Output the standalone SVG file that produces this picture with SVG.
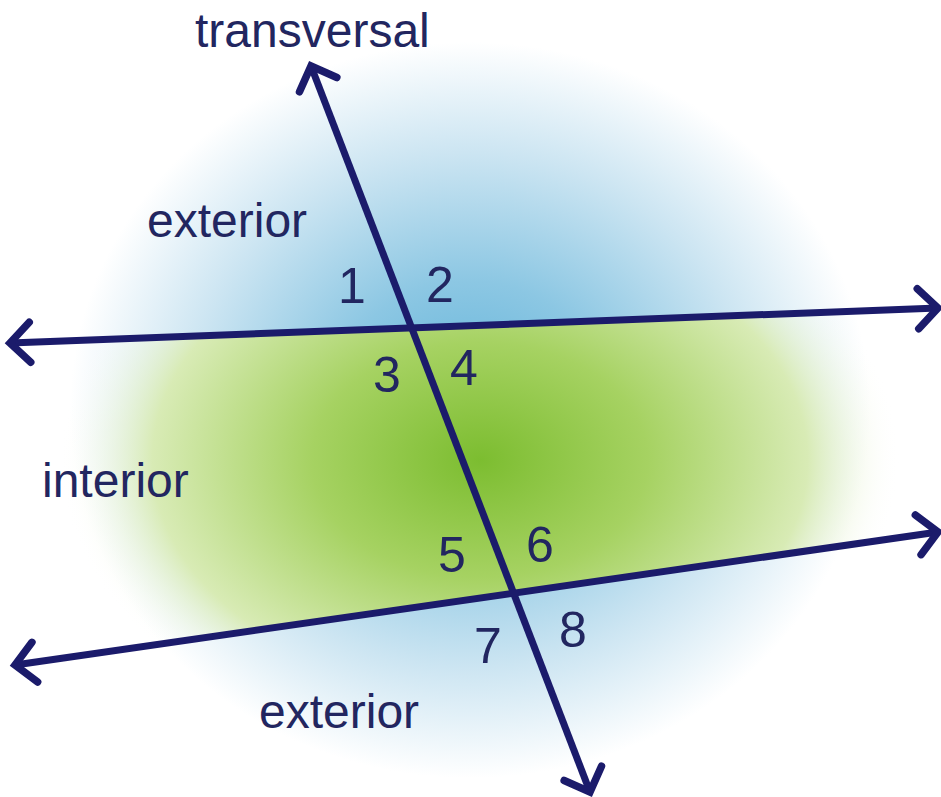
<svg xmlns="http://www.w3.org/2000/svg" width="941" height="797" viewBox="0 0 941 797">
<defs>
<radialGradient id="blue" cx="470" cy="410" r="400" gradientUnits="userSpaceOnUse" gradientTransform="translate(470 410) scale(1 0.92) translate(-470 -410)">
<stop offset="0" stop-color="#5fb2d9"/>
<stop offset="0.35" stop-color="#8cc7e3"/>
<stop offset="0.7" stop-color="#cce5f2"/>
<stop offset="1" stop-color="#ffffff"/>
</radialGradient>
<radialGradient id="green" cx="480" cy="460" r="420" gradientUnits="userSpaceOnUse" gradientTransform="translate(480 460) scale(1 0.7) translate(-480 -460)">
<stop offset="0" stop-color="#7cbd30"/>
<stop offset="0.4" stop-color="#a6d262"/>
<stop offset="0.78" stop-color="#d8ebb5"/>
<stop offset="1" stop-color="#ffffff" stop-opacity="0"/>
</radialGradient>
<marker id="arr" viewBox="-30 -30 40 60" refX="0" refY="0" markerWidth="40" markerHeight="60" markerUnits="userSpaceOnUse" orient="auto-start-reverse" overflow="visible">
<path d="M-20,-20 L0,0 L-20,20" fill="none" stroke="#1b1b6b" stroke-width="7.5" stroke-linecap="round" stroke-linejoin="miter"/>
</marker>
<style>
.ln{stroke:#1b1b6b;stroke-width:7;fill:none;marker-start:url(#arr);marker-end:url(#arr)}
.t{font-family:"Liberation Sans",Arial,sans-serif;font-size:48px;fill:#222660}
.n{font-family:"Liberation Sans",Arial,sans-serif;font-size:50px;fill:#222660;text-anchor:middle}
</style>
</defs>
<rect width="941" height="797" fill="#ffffff"/>
<ellipse cx="470" cy="410" rx="410" ry="375" fill="url(#blue)"/>
<polygon points="0,343.4 941,307.9 941,531.7 0,667.2" fill="url(#green)"/>
<g id="connectors">
<line class="ln" x1="311" y1="66" x2="590" y2="792"/>
<line class="ln" x1="10" y1="343" x2="938" y2="308"/>
<line class="ln" x1="15" y1="665" x2="938" y2="532"/>
</g>
<g id="labels">
<text class="t" x="195" y="47">transversal</text>
<text class="t" x="147" y="237">exterior</text>
<text class="t" x="42" y="497">interior</text>
<text class="t" x="259" y="728">exterior</text>
</g>
<g id="angles">
<text class="n" x="352" y="303">1</text>
<text class="n" x="440" y="302">2</text>
<text class="n" x="387" y="392">3</text>
<text class="n" x="464" y="385">4</text>
<text class="n" x="452" y="572">5</text>
<text class="n" x="540" y="562">6</text>
<text class="n" x="488" y="663">7</text>
<text class="n" x="573" y="647">8</text>
</g>
</svg>
